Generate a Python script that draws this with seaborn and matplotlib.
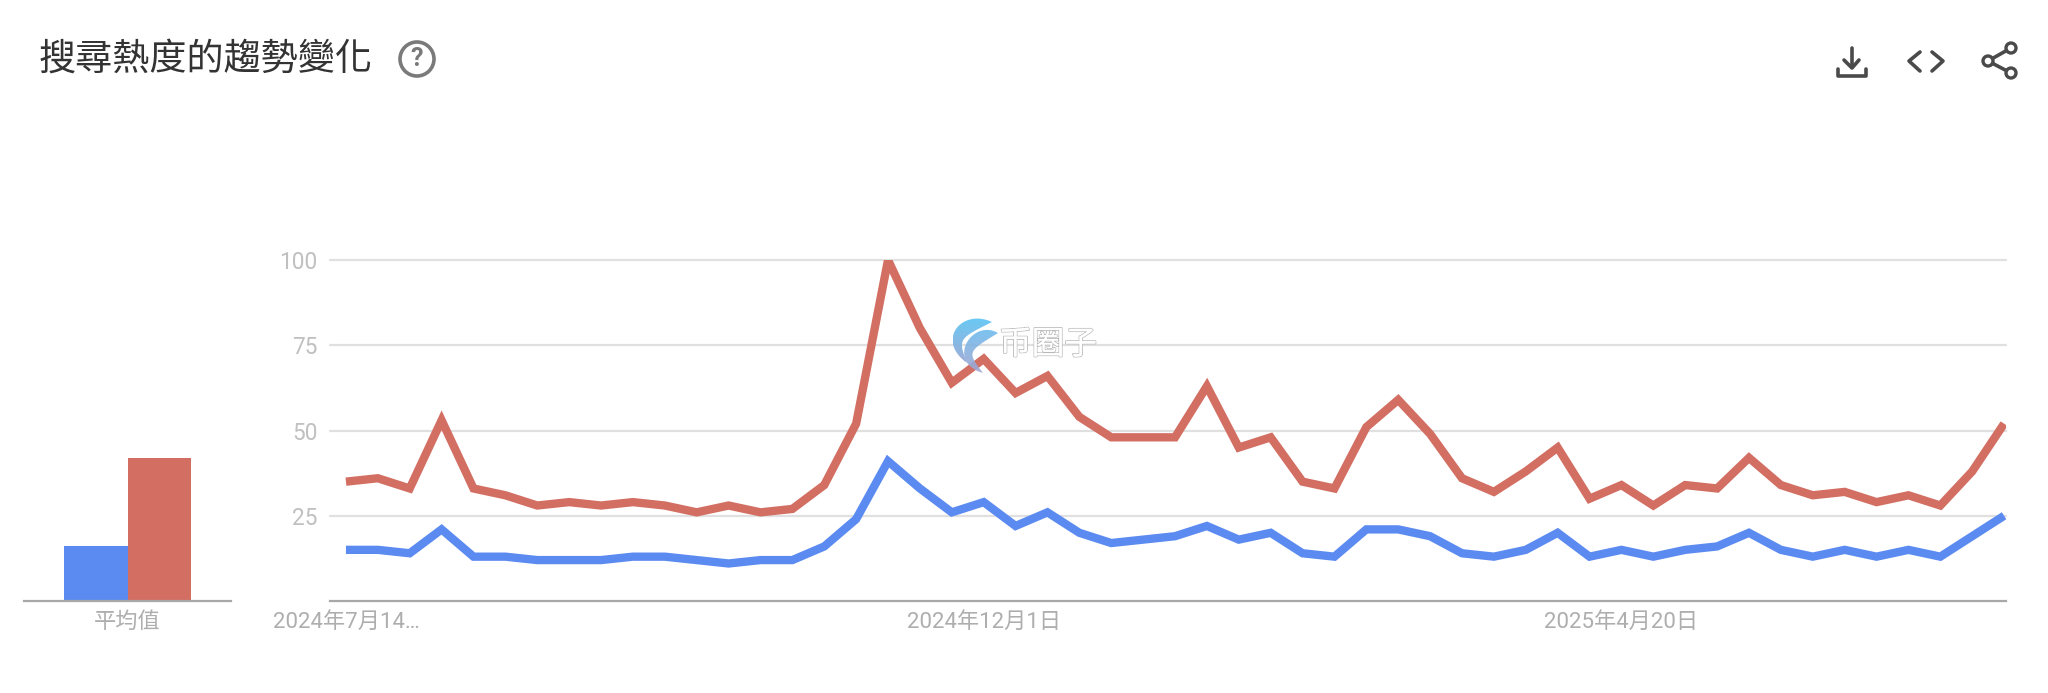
import numpy as np
import pandas as pd
import matplotlib.pyplot as plt
import matplotlib.patheffects as pe
from matplotlib.colors import to_rgb
from matplotlib.patches import Circle, Polygon
import seaborn as sns

sns.set_theme(style='white')
plt.rcParams['font.family'] = ['Roboto', 'Noto Sans CJK TC', 'DejaVu Sans']

W, H = 2048, 693

title = "搜尋熱度的趨勢變化"
blue_values = [15, 15, 14, 21, 13, 13, 12, 12, 12, 13, 13, 12, 11, 12, 12, 16, 24, 41,
               33, 26, 29, 22, 26, 20, 17, 18, 19, 22, 18, 20, 14, 13, 21, 21, 19, 14,
               13, 15, 20, 13, 15, 13, 15, 16, 20, 15, 13, 15, 13, 15, 13, 19, 25]
red_values = [35, 36, 33, 53, 33, 31, 28, 29, 28, 29, 28, 26, 28, 26, 27, 34, 52, 100,
              80, 64, 71, 61, 66, 54, 48, 48, 48, 63, 45, 48, 35, 33, 51, 59, 49, 36,
              32, 38, 45, 30, 34, 28, 34, 33, 42, 34, 31, 32, 29, 31, 28, 38, 52]
avg_label = "平均值"
avg_values = [16, 42]
series_names = ["blue", "red"]
y_ticks = [25, 50, 75, 100]
x_tick_pos = [0, 20, 40]
x_tick_labels = ["2024年7月14…", "2024年12月1日", "2025年4月20日"]

BLUE = "#5b8bf1"
RED = "#d36e63"
GRID = "#e0e0e0"
AXIS = "#a8a8a8"
LABEL = "#aeaeae"
ICON = "#4a4a4a"
palette = dict(zip(series_names, [BLUE, RED]))


def px_axes(left, right, top, bottom):
    return fig.add_axes([left / W, 1 - bottom / H, (right - left) / W, (bottom - top) / H])


fig = plt.figure(figsize=(W / 100, H / 100), dpi=100, facecolor="white")

# average bars on the left
ax_bar = px_axes(24, 231, 260, 601)
avg_df = pd.DataFrame({"x": [avg_label] * 2, "series": series_names, "value": avg_values})
sns.barplot(data=avg_df, x="x", y="value", hue="series", palette=palette, width=0.61,
            gap=0, saturation=1, legend=False, linewidth=0, ax=ax_bar)
ax_bar.set_xlim(-0.5, 0.5)
ax_bar.set_ylim(0, 100)
ax_bar.set_xlabel("")
ax_bar.set_ylabel("")
ax_bar.set_yticks([])
ax_bar.tick_params(axis="x", length=0, pad=8, labelsize=16, labelcolor=LABEL)
sns.despine(ax=ax_bar, left=True)
ax_bar.spines["bottom"].set_color(AXIS)
ax_bar.spines["bottom"].set_linewidth(1.6)

# weekly trend lines
ax = px_axes(330, 2006, 260, 601)
trend_df = pd.DataFrame({
    "week": list(range(len(blue_values))) * 2,
    "value": blue_values + red_values,
    "series": ["blue"] * len(blue_values) + ["red"] * len(red_values),
})
sns.lineplot(data=trend_df, x="week", y="value", hue="series", palette=palette,
             linewidth=6, legend=False, ax=ax, zorder=3,
             solid_capstyle="butt", solid_joinstyle="miter")
ax.set_xlim(-0.5, 52.06)
ax.set_ylim(0, 100)
ax.set_xlabel("")
ax.set_ylabel("")
ax.set_yticks(y_ticks)
ax.set_xticks(x_tick_pos)
ax.set_xticklabels(x_tick_labels)
ax.grid(axis="y", color=GRID, linewidth=1.6)
ax.grid(axis="x", visible=False)
for gl in ax.get_ygridlines():
    gl.set_clip_on(False)
ax.tick_params(axis="y", length=0, pad=9, labelsize=16.3, labelcolor="#c0c0c0")
ax.tick_params(axis="x", length=0, pad=8, labelsize=16, labelcolor=LABEL)
sns.despine(ax=ax, left=True)
ax.spines["bottom"].set_color(AXIS)
ax.spines["bottom"].set_linewidth(1.6)

# overlay in pixel coordinates for header, icons and watermark
top = fig.add_axes([0, 0, 1, 1], facecolor="none")
top.set_xlim(0, W)
top.set_ylim(H, 0)
top.axis("off")

top.text(39, 60, title, fontsize=26.7, color="#333333", va="center", ha="left")

top.add_patch(Circle((417, 59), 17, fill=False, ec="#7a7a7a", lw=2.6))
top.text(417, 59, "?", fontsize=18, color="#7a7a7a", ha="center", va="center", fontweight="bold")


def stroke(xs, ys):
    top.plot(xs, ys, color=ICON, lw=2.6, solid_capstyle="round", solid_joinstyle="round")


stroke([1852, 1852], [48, 67])
stroke([1844, 1852, 1859], [60, 68, 60])
stroke([1838, 1838, 1866, 1866], [69, 76, 76, 69])
stroke([1920, 1909, 1920], [52, 61, 71])
stroke([1932, 1943, 1932], [52, 61, 71])
stroke([2011, 1988, 2011], [48, 61, 73])
for cx, cy in [(2011, 48), (1988, 61), (2011, 73)]:
    top.add_patch(Circle((cx, cy), 5, fc="white", ec=ICON, lw=2.4, zorder=4))


# watermark logo: two crescents with a top to bottom colour fade
def bezier(p0, c1, c2, p1):
    t = np.linspace(0, 1, 40)[:, None]
    p0, c1, c2, p1 = map(np.array, (p0, c1, c2, p1))
    return (1 - t) ** 3 * p0 + 3 * (1 - t) ** 2 * t * c1 + 3 * (1 - t) * t ** 2 * c2 + t ** 3 * p1


def crescent(a, b, c1, c2, inner_c, col_top, col_bot, alpha):
    outline = np.r_[bezier(a, c1, c2, b), bezier(b, inner_c, inner_c, a)]
    poly = Polygon(outline, closed=True, fc="none", ec="none", transform=top.transData)
    top.add_patch(poly)
    fade = np.linspace(0, 1, 64)[:, None, None]
    img = (1 - fade) * np.array(to_rgb(col_top)) + fade * np.array(to_rgb(col_bot))
    x0, x1, y0, y1 = outline[:, 0].min(), outline[:, 0].max(), outline[:, 1].min(), outline[:, 1].max()
    im = top.imshow(img, extent=(x0, x1, y1, y0), aspect="auto", alpha=alpha, zorder=5)
    im.set_clip_path(poly)


crescent((992, 322), (967, 363), (962, 308), (935, 340), (958, 339), "#62c6f4", "#9aa9d6", 0.95)
crescent((998, 333), (983, 373), (972, 318), (945, 362), (967, 352), "#6dbcee", "#a3a6d2", 0.9)
top.set_xlim(0, W)
top.set_ylim(H, 0)

top.text(1048, 345, "币圈子", fontsize=23.5, color="white", ha="center", va="center",
         family=["Noto Sans CJK SC", "DejaVu Sans"], zorder=6,
         path_effects=[pe.withStroke(linewidth=1.2, foreground="#b8b8b8"), pe.Normal()])

plt.savefig("out.png", dpi=100)
